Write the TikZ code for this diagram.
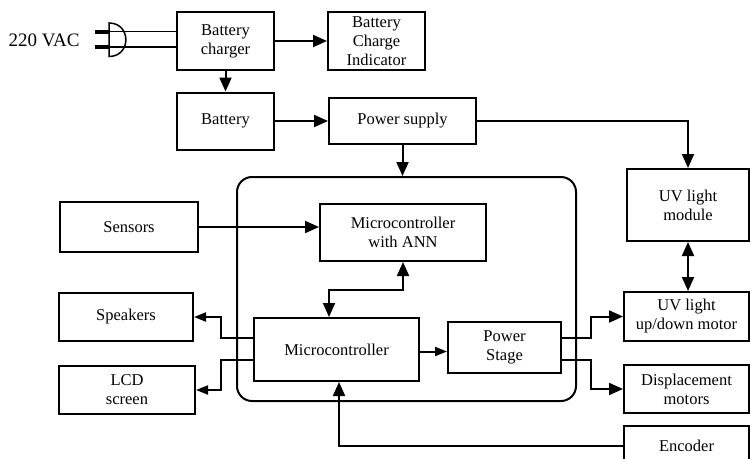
\documentclass[tikz,border=0pt]{standalone}
\usepackage{fontspec}
\setmainfont{Liberation Serif}
\usetikzlibrary{arrows.meta}
\tikzset{
  box/.style={draw, line width=2pt, align=center, inner sep=1pt, font=\fontsize{16.5}{19}\selectfont},
  arr/.style={line width=2pt, -{Triangle[length=14pt,width=12pt]}},
  arrs/.style={line width=2pt, -{Triangle[length=12pt,width=9pt]}},
  arrb/.style={line width=2pt, {Triangle[length=14pt,width=12pt]}-{Triangle[length=14pt,width=12pt]}},
  plugline/.style={line width=1.5pt},
  lbl/.style={font=\fontsize{19}{22}\selectfont}
}
\begin{document}
\begin{tikzpicture}[x=1pt,y=-1pt]
\useasboundingbox (0,0) rectangle (751,458);
\clip (0,0) rectangle (751,458);
\fill[white] (0,0) rectangle (751,458);

% frame
\node[draw, line width=2pt, rounded corners=15pt, minimum width=339pt, minimum height=224pt] (frame) at (406.5,289) {};

% boxes
\node[box, minimum width=97pt, minimum height=58pt] (charger) at (225.5,41) {Battery\\charger};
\node[box, minimum width=97pt, minimum height=58pt] (indicator) at (376.5,41) {Battery\\Charge\\Indicator};
\node[box, minimum width=97pt, minimum height=57pt] (battery) at (225.5,121) {Battery};
\node[box, minimum width=147pt, minimum height=46pt] (psupply) at (402.5,121) {Power supply};
\node[box, minimum width=138pt, minimum height=50pt] (sensors) at (129,227) {Sensors};
\node[box, minimum width=166pt, minimum height=57pt] (ann) at (403,232.5) {Microcontroller\\with ANN};
\node[box, minimum width=134pt, minimum height=48pt] (speakers) at (126,317) {Speakers};
\node[box, minimum width=165pt, minimum height=63pt] (mc) at (336.5,349.5) {Microcontroller};
\node[box, minimum width=136pt, minimum height=48pt] (lcd) at (127,390) {LCD\\screen};
\node[box, minimum width=113pt, minimum height=51pt] (pstage) at (504.5,347.5) {Power\\Stage};
\node[box, minimum width=122pt, minimum height=72pt] (uvmod) at (688,205) {UV light\\module};
\node[box, minimum width=125pt, minimum height=49pt] (uvmotor) at (686.5,316.5) {UV light\\up/down motor};
\node[box, minimum width=125pt, minimum height=48pt] (disp) at (686.5,389) {Displacement\\motors};
\node[box, minimum width=125pt, minimum height=40pt] (encoder) at (686.5,446) {Encoder};

% plug
\node[lbl] (vac) at (44,40) {220 VAC};
\coordinate (plugA) at (109,31.5);
\coordinate (plugB) at (109,47);
\draw[line width=4pt] (95,31.5) -- (plugA);
\draw[line width=4pt] (95,47) -- (plugB);
\draw[plugline] (109,23) -- (109,56.5) .. controls (131.5,56.5) and (131.5,23) .. (109,23) -- cycle;
\draw[plugline] (plugA) -- (plugA -| charger.west);
\draw[plugline] (plugB) -- (plugB -| charger.west);

% connectors
\draw[arr] (charger) -- (indicator);
\draw[arr] (charger.south) -- (battery.north);
\draw[arr] (battery.east) -- (battery.east -| psupply.west);
\draw[arr] (psupply.south) -- (psupply.south |- frame.north);
\draw[arr] (psupply.east) -| (uvmod.north);
\draw[arr] (sensors.east) -- (sensors.east -| ann.west);
\draw[arrb] ([xshift=-7.5pt]mc.north) -- ++(0,-27) -| (ann.south);
\draw[arrs] ([yshift=12pt]mc.west) -- ++(-32,0) |- (speakers.east);
\draw[arrs] ([yshift=-10pt]mc.west) -- ++(-32,0) |- (lcd.east);
\draw[arrs] ([yshift=-2pt]mc.east) -- ([yshift=-2pt]mc.east -| pstage.west);
\draw[arr] ([yshift=10pt]pstage.east) -- ++(29,0) |- (uvmotor.west);
\draw[arr] ([yshift=-12pt]pstage.east) -- ++(29,0) |- (disp.west);
\draw[arrb] (uvmod.south) -- (uvmod.south |- uvmotor.north);
\draw[arr] (encoder.west) -| ([xshift=2.5pt]mc.south);
\end{tikzpicture}
\end{document}
